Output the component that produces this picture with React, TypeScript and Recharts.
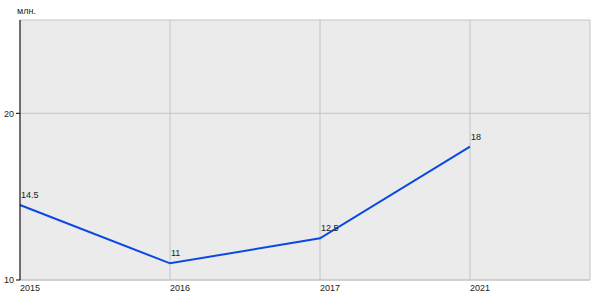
import React from 'react';
import { LineChart, Line, XAxis, YAxis, CartesianGrid, LabelList } from 'recharts';

const years = ['2015', '2016', '2017', '2021'];
const values = [14.5, 11, 12.5, 18];
const yTicks = [10, 20];

const data = years.map((year, i) => ({ year, value: values[i] }));

const FONT = '"Liberation Sans", Arial, sans-serif';

const XTick = (props: any) => {
  const { x, y, payload } = props;
  return (
    <text x={x} y={y} dy="0.71em" textAnchor="start" fontSize={9} fill="#222" fontFamily={FONT}>
      {payload.value}
    </text>
  );
};

const PointLabel = (props: any) => {
  const { x, y, value } = props;
  return (
    <text x={x + 1} y={y - 7} textAnchor="start" fontSize={9} fill="#222" fontFamily={FONT}>
      {value}
    </text>
  );
};

export default function App() {
  return (
    <div style={{ position: 'absolute', left: 0, top: 0, width: 600, height: 300 }}>
      <div
        style={{
          position: 'absolute',
          left: 17,
          top: 6,
          fontSize: 9,
          fontFamily: FONT,
          color: '#222',
        }}
      >
        млн.
      </div>
      <LineChart width={600} height={300} data={data} margin={{ top: 20, right: 10, left: 0, bottom: 0 }}>
        <CartesianGrid fill="#ebebeb" stroke="#c4c4c4" strokeWidth={1} />
        <XAxis
          dataKey="year"
          padding={{ left: 0, right: 120 }}
          height={20}
          stroke="#c4c4c4"
          tickLine={false}
          tickSize={0}
          tickMargin={5}
          tick={<XTick />}
          interval={0}
        />
        <YAxis
          width={20}
          domain={[10, 25.6]}
          ticks={yTicks}
          stroke="#000"
          tickSize={4}
          tickMargin={2}
          tick={{ fontSize: 9, fill: '#222', fontFamily: FONT }}
        />
        <Line
          type="linear"
          dataKey="value"
          stroke="#0a48e6"
          strokeWidth={2}
          dot={false}
          isAnimationActive={false}
        >
          <LabelList dataKey="value" content={<PointLabel />} />
        </Line>
      </LineChart>
    </div>
  );
}
